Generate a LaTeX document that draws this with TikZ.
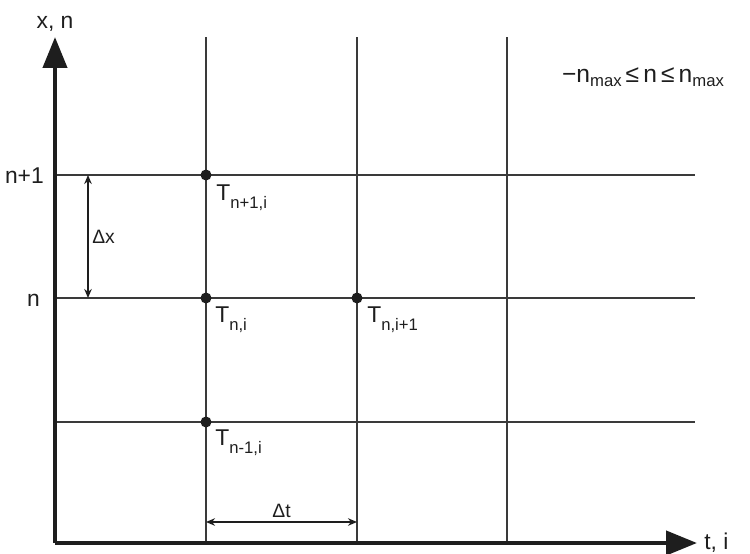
\documentclass[tikz,border=0pt]{standalone}
\usepackage{fontspec}
\setmainfont{Liberation Sans}
\usetikzlibrary{arrows.meta, positioning, calc}

\definecolor{gridgray}{HTML}{3A3A3A}
\definecolor{axisblack}{HTML}{1E1E1E}

% lowered subscript, as the figure sets it
\newcommand{\lowsub}[2][5pt]{\raisebox{-#1}{\fontsize{9.5}{10}\selectfont #2}}

\tikzset{
  gridline/.style={line width=1.3pt, draw=gridgray},
  axisline/.style={line width=2.4pt, draw=axisblack, -{Triangle[length=6.2mm, width=4.8mm]}},
  dimarrow/.style={line width=0.9pt, draw=axisblack, {Stealth[length=1.8mm, width=1.5mm]}-{Stealth[length=1.8mm, width=1.5mm]}},
  gridpt/.style={circle, fill=axisblack, inner sep=0pt, minimum size=2.2mm},
  tlabel/.style={anchor=north west, inner sep=0pt, text=axisblack},
  dimlabel/.style={inner sep=2pt, text=axisblack, font=\fontsize{11}{12}\selectfont},
}

\begin{document}
\begin{tikzpicture}[x=0.2mm, y=0.2mm, font=\fontsize{13}{15}\selectfont, text=axisblack]
    \useasboundingbox (0,0) rectangle (750,553);

    % Grid
    \foreach \gx in {206,357,507}
        \draw [gridline] (\gx,10) -- (\gx,516);
    \foreach \gy in {378,255,131}
        \draw [gridline] (55,\gy) -- (695,\gy);

    % Axes
    \coordinate (org) at (55,10);
    \coordinate (xtip) at (55,516);
    \coordinate (ttip) at (697,10);
    \draw [axisline] (org) -- (xtip);
    \draw [axisline] (org) -- (ttip);
    \node [above, inner sep=3pt] (xlab) at (xtip) {x, n};
    \node [right, inner sep=4pt] (tlab) at (ttip) {t, i};
    \node [anchor=east] (nplus) at (50,377) {n+1};
    \node [anchor=east] (nrow) at (46,253) {n};

    % Grid points
    \node [gridpt] (pup) at (206,378) {};
    \node [gridpt] (pmid) at (206,255) {};
    \node [gridpt] (pright) at (357,255) {};
    \node [gridpt] (plow) at (206,131) {};
    \node [tlabel] (lup) at ([shift={(10,-9)}]pup.center) {T\lowsub{n+1,i}};
    \node [tlabel] (lmid) at ([shift={(9,-8)}]pmid.center) {T\lowsub{n,i}};
    \node [tlabel] (lright) at ([shift={(10,-8)}]pright.center) {T\lowsub{n,i+1}};
    \node [tlabel] (llow) at ([shift={(9,-7)}]plow.center) {T\lowsub{n-1,i}};

    % Step sizes
    \coordinate (dxtop) at (88,378);
    \coordinate (dxbot) at (88,255);
    \coordinate (dtleft) at (206,31);
    \coordinate (dtright) at (357,31);
    \draw [dimarrow] (dxtop) -- node [dimlabel, right] (dxlab) {Δx} (dxbot);
    \draw [dimarrow] (dtleft) -- node [dimlabel, above] (dtlab) {Δt} (dtright);

    % Range of n
    \node [font=\fontsize{14}{16}\selectfont] (range) at (643,476)
        {−n\lowsub[2.5pt]{max}\,≤\,n\,≤\,n\lowsub[2.5pt]{max}};
\end{tikzpicture}
\end{document}
